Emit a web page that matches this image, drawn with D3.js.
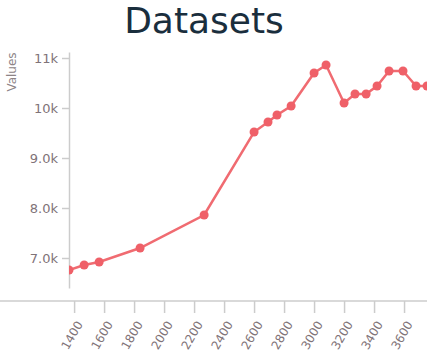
<!DOCTYPE html>
<html>
<head>
<meta charset="utf-8">
<script src="https://cdn.jsdelivr.net/npm/d3@7"></script>
<style>
  body { margin: 0; background: #fff; }
  svg { font-family: "DejaVu Sans", sans-serif; }
</style>
</head>
<body>
<div id="chart"></div>
<script>
// data
const xValues = [1366, 1467, 1567, 1840, 2267, 2600, 2693, 2753, 2847, 3000, 3080, 3200, 3273, 3347, 3420, 3500, 3593, 3680, 3753];
const yValues = [6760, 6860, 6920, 7200, 7860, 9520, 9720, 9860, 10040, 10700, 10860, 10100, 10280, 10280, 10440, 10740, 10740, 10440, 10440];
const xTicks = [1400, 1600, 1800, 2000, 2200, 2400, 2600, 2800, 3000, 3200, 3400, 3600];
const yTicks = [7000, 8000, 9000, 10000, 11000];
const title = 'Datasets';
const yTitle = 'Values';

const width = 427, height = 363;
const margin = { top: 52, right: 0, bottom: 75, left: 69 };

const svg = d3.select('#chart')
    .append('svg')
    .attr('width', width)
    .attr('height', height);

const xScale = d3.scaleLinear()
    .domain([1366, 3753])
    .range([margin.left, width - margin.right]);

const yScale = d3.scaleLinear()
    .domain([6400, 11120])
    .range([height - margin.bottom, margin.top]);

// title
svg.append('text')
    .attr('x', 204)
    .attr('y', 33)
    .attr('text-anchor', 'middle')
    .attr('font-size', 36)
    .attr('fill', '#1a2e3d')
    .text(title);

// y axis
const yAxisG = svg.append('g')
    .attr('transform', `translate(${margin.left},0)`)
    .call(d3.axisLeft(yScale).tickValues(yTicks).tickFormat(d3.format('.2s')).tickSize(7).tickSizeOuter(0).tickPadding(4));
yAxisG.select('.domain').attr('stroke', '#ccc').attr('stroke-width', 1.5);
yAxisG.selectAll('.tick line').attr('stroke', '#ccc').attr('stroke-width', 1.5);
yAxisG.selectAll('.tick text').attr('fill', '#7f7378').attr('font-size', 13).attr('font-family', '"DejaVu Sans", sans-serif');

svg.append('text')
    .attr('transform', `translate(16,72) rotate(-90)`)
    .attr('text-anchor', 'middle')
    .attr('font-size', 12)
    .attr('fill', '#8c8487')
    .text(yTitle);

// x axis
const xAxisY = 301;
const xAxisG = svg.append('g')
    .attr('transform', `translate(0,${xAxisY})`)
    .call(d3.axisBottom(xScale).tickValues(xTicks).tickFormat(d3.format('d')).tickSize(12).tickSizeOuter(0));
xAxisG.select('.domain').remove();
xAxisG.append('line')
    .attr('x1', 0).attr('x2', width)
    .attr('stroke', '#ccc').attr('stroke-width', 1.5);
xAxisG.selectAll('.tick line').attr('stroke', '#ccc').attr('stroke-width', 1.5);
xAxisG.selectAll('.tick text')
    .attr('fill', '#7f7378')
    .attr('font-size', 12)
    .attr('font-family', '"DejaVu Sans", sans-serif')
    .attr('text-anchor', 'end')
    .attr('transform', 'translate(5,21) rotate(-60)')
    .attr('y', 0)
    .attr('dy', '0.35em');

// line + points, clipped to plot area
svg.append('clipPath').attr('id', 'plot-clip')
    .append('rect')
    .attr('x', margin.left).attr('y', 0)
    .attr('width', width - margin.left).attr('height', xAxisY);

const points = xValues.map((x, i) => ({ x: x, y: yValues[i] }));
const plot = svg.append('g').attr('clip-path', 'url(#plot-clip)');

const line = d3.line()
    .x(d => xScale(d.x))
    .y(d => yScale(d.y));

plot.append('path')
    .datum(points)
    .attr('fill', 'none')
    .attr('stroke', '#f06b71')
    .attr('stroke-width', 2.5)
    .attr('d', line);

plot.selectAll('circle')
    .data(points)
    .join('circle')
    .attr('cx', d => xScale(d.x))
    .attr('cy', d => yScale(d.y))
    .attr('r', 4.5)
    .attr('fill', '#ef6068');
</script>
</body>
</html>
